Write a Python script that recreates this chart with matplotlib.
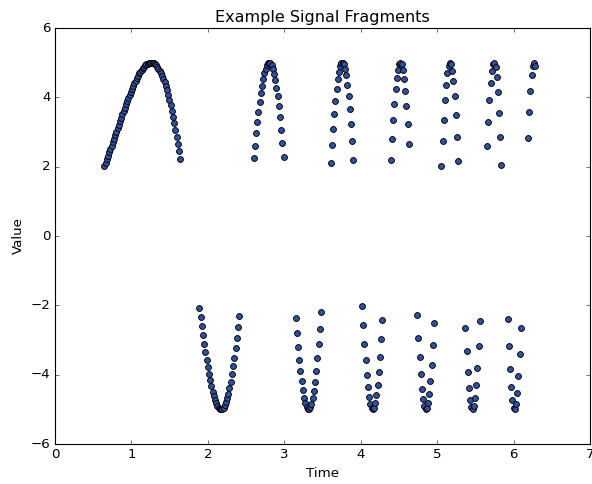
import numpy as np
import matplotlib
matplotlib.use("Agg")
import matplotlib.pyplot as plt

# sampled signal, one pair of lists per fragment (|value| > 2)
t1 = [0.646, 0.661, 0.677, 0.693, 0.709, 0.724, 0.740, 0.756, 0.772, 0.787,
      0.803, 0.819, 0.835, 0.850, 0.866, 0.882, 0.898, 0.913, 0.929, 0.945,
      0.961, 0.976, 0.992, 1.008, 1.024, 1.039, 1.055, 1.071, 1.087, 1.102,
      1.118, 1.134, 1.150, 1.165, 1.181, 1.197, 1.213, 1.228, 1.244, 1.260,
      1.276, 1.291, 1.307, 1.323, 1.339, 1.354, 1.370, 1.386, 1.402, 1.417,
      1.433, 1.449, 1.465, 1.480, 1.496, 1.512, 1.527, 1.543, 1.559, 1.575,
      1.590, 1.606, 1.622, 1.638]
v1 = [2.02, 2.12, 2.21, 2.31, 2.41, 2.51, 2.60, 2.70, 2.80, 2.90,
      3.00, 3.11, 3.21, 3.31, 3.41, 3.51, 3.60, 3.70, 3.80, 3.89,
      3.98, 4.08, 4.16, 4.25, 4.33, 4.41, 4.48, 4.56, 4.62, 4.69,
      4.74, 4.80, 4.84, 4.88, 4.92, 4.95, 4.97, 4.99, 5.00, 5.00,
      4.99, 4.98, 4.95, 4.92, 4.88, 4.83, 4.76, 4.70, 4.61, 4.53,
      4.43, 4.32, 4.20, 4.07, 3.92, 3.78, 3.61, 3.44, 3.26, 3.07,
      2.87, 2.66, 2.44, 2.22]

t2 = [1.890, 1.905, 1.921, 1.937, 1.953, 1.968, 1.984, 2.000, 2.016, 2.031,
      2.047, 2.063, 2.079, 2.094, 2.110, 2.126, 2.142, 2.157, 2.173, 2.189,
      2.205, 2.220, 2.236, 2.252, 2.268, 2.283, 2.299, 2.315, 2.331, 2.346,
      2.362, 2.378, 2.394, 2.409]
v2 = [-2.08, -2.35, -2.61, -2.87, -3.11, -3.34, -3.57, -3.78, -3.98, -4.16,
      -4.34, -4.49, -4.62, -4.73, -4.83, -4.91, -4.96, -4.99, -5.00, -4.98,
      -4.95, -4.88, -4.79, -4.68, -4.55, -4.38, -4.20, -3.99, -3.76, -3.51,
      -3.23, -2.94, -2.63, -2.30]

t3 = [2.598, 2.614, 2.630, 2.646, 2.661, 2.677, 2.693, 2.709, 2.724, 2.740,
      2.756, 2.772, 2.787, 2.803, 2.819, 2.835, 2.850, 2.866, 2.882, 2.898,
      2.913, 2.929, 2.945, 2.960, 2.976, 2.992]
v3 = [2.25, 2.61, 2.96, 3.28, 3.58, 3.86, 4.12, 4.34, 4.54, 4.70,
      4.83, 4.93, 4.98, 5.00, 4.98, 4.92, 4.82, 4.68, 4.50, 4.28,
      4.03, 3.74, 3.42, 3.06, 2.68, 2.28]

t4 = [3.149, 3.165, 3.181, 3.197, 3.212, 3.228, 3.244, 3.260, 3.275, 3.291,
      3.307, 3.323, 3.338, 3.354, 3.370, 3.386, 3.401, 3.417, 3.433, 3.449,
      3.464, 3.480]
v4 = [-2.37, -2.80, -3.20, -3.57, -3.90, -4.19, -4.45, -4.66, -4.82, -4.93,
      -4.99, -5.00, -4.94, -4.84, -4.68, -4.46, -4.20, -3.88, -3.52, -3.12,
      -2.67, -2.20]

t5 = [3.606, 3.622, 3.638, 3.653, 3.669, 3.685, 3.701, 3.716, 3.732, 3.748,
      3.764, 3.779, 3.795, 3.811, 3.827, 3.842, 3.858, 3.874, 3.890, 3.905]
v5 = [2.12, 2.62, 3.09, 3.52, 3.90, 4.24, 4.52, 4.73, 4.89, 4.98,
      5.00, 4.95, 4.82, 4.63, 4.37, 4.05, 3.66, 3.23, 2.73, 2.20]

t6 = [4.016, 4.031, 4.047, 4.063, 4.079, 4.094, 4.110, 4.126, 4.142, 4.157,
      4.173, 4.189, 4.205, 4.220, 4.236, 4.252, 4.268, 4.283]
v6 = [-2.02, -2.58, -3.11, -3.58, -4.00, -4.35, -4.63, -4.84, -4.96, -5.00,
      -4.95, -4.82, -4.60, -4.31, -3.93, -3.49, -2.98, -2.41]

t7 = [4.394, 4.409, 4.425, 4.441, 4.456, 4.472, 4.488, 4.504, 4.519, 4.535,
      4.551, 4.567, 4.582, 4.598, 4.614, 4.630]
v7 = [2.19, 2.79, 3.34, 3.82, 4.23, 4.56, 4.80, 4.95, 5.00, 4.95,
      4.79, 4.54, 4.18, 3.75, 3.23, 2.64]

t8 = [4.740, 4.756, 4.771, 4.787, 4.803, 4.819, 4.834, 4.850, 4.866, 4.882,
      4.897, 4.913, 4.929, 4.945, 4.960]
v8 = [-2.29, -2.93, -3.50, -3.99, -4.40, -4.71, -4.91, -5.00, -4.97, -4.82,
      -4.56, -4.19, -3.72, -3.15, -2.52]

t9 = [5.055, 5.071, 5.086, 5.102, 5.118, 5.134, 5.149, 5.165, 5.181, 5.197,
      5.212, 5.228, 5.244, 5.260, 5.275]
v9 = [2.03, 2.73, 3.36, 3.91, 4.36, 4.70, 4.91, 5.00, 4.95, 4.77,
      4.47, 4.04, 3.50, 2.87, 2.15]

t10 = [5.370, 5.386, 5.401, 5.417, 5.433, 5.449, 5.464, 5.480, 5.496, 5.512,
       5.527, 5.543, 5.559]
v10 = [-2.66, -3.33, -3.91, -4.38, -4.73, -4.94, -5.00, -4.91, -4.68, -4.31,
       -3.80, -3.18, -2.46]

t11 = [5.653, 5.669, 5.685, 5.701, 5.716, 5.732, 5.748, 5.764, 5.779, 5.795,
       5.811, 5.827, 5.842]
v11 = [2.59, 3.30, 3.92, 4.41, 4.76, 4.96, 4.99, 4.87, 4.58, 4.14,
       3.56, 2.86, 2.06]

t12 = [5.921, 5.937, 5.953, 5.968, 5.984, 6.000, 6.015, 6.031, 6.047, 6.063,
       6.078, 6.094]
v12 = [-2.40, -3.17, -3.84, -4.37, -4.74, -4.96, -4.99, -4.85, -4.53, -4.04,
       -3.41, -2.65]

t13 = [6.189, 6.204, 6.220, 6.236, 6.252, 6.267, 6.283]
v13 = [2.83, 3.57, 4.18, 4.63, 4.91, 5.00, 4.89]

times = [t1, t2, t3, t4, t5, t6, t7, t8, t9, t10, t11, t12, t13]
values = [v1, v2, v3, v4, v5, v6, v7, v8, v9, v10, v11, v12, v13]

t = np.concatenate(times)
v = np.concatenate(values)

plt.style.use('classic')
plt.rcParams['font.family'] = ['DejaVu Sans']

fig = plt.figure(figsize=(7.4, 6.05), dpi=80, facecolor='white')
ax = fig.add_axes([55 / 592, 1 - 444 / 484, 535 / 592, 416 / 484])

# slightly bigger dots than the default, dark blue with black rim
ax.scatter(t, v, s=28, c='#3050a0', edgecolors='k', linewidths=0.8, zorder=3)

ax.set_xlim(0, 7)
ax.set_ylim(-6, 6)
ax.set_xticks(range(0, 8))
ax.set_yticks(range(-6, 7, 2))
ax.set_title("Example Signal Fragments", fontsize=14.4)
ax.set_xlabel("Time", fontsize=12)
ax.set_ylabel("Value", fontsize=12)

fig.savefig("out.png", dpi=80, facecolor='white')
